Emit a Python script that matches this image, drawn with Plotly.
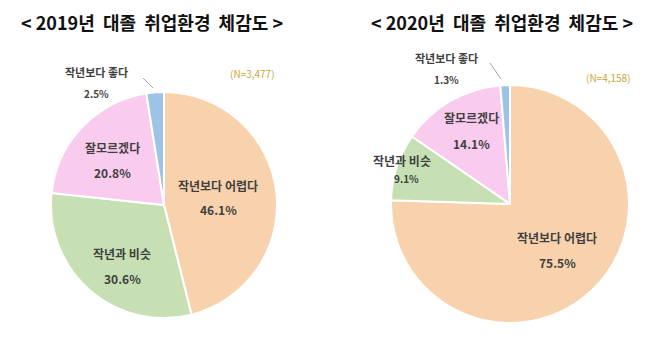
import plotly.graph_objects as go

# Survey categories (clockwise from 12 o'clock)
categories = ["작년보다 어렵다", "작년과 비슷", "잘모르겠다", "작년보다 좋다"]
values_2019 = [46.1, 30.6, 20.8, 2.5]
values_2020 = [75.5, 9.1, 14.1, 1.3]
titles = ["< 2019년  대졸  취업환경  체감도 >", "< 2020년  대졸  취업환경  체감도 >"]
sample_sizes = ["(N=3,477)", "(N=4,158)"]

colors = ["#F8D2AC", "#C6E0B4", "#F9CBEE", "#9DC3E6"]
W, H = 660, 347
FONT = "Noto Sans CJK KR"
LABEL_COLOR = "#3F3F3F"


def px(x):
    return x / W


def py(y):
    return 1 - y / H


def pie_domain(cx, cy, r):
    return dict(x=[px(cx - r), px(cx + r)], y=[py(cy + r), py(cy - r)])


fig = go.Figure()
fig.add_trace(go.Pie(
    labels=categories, values=values_2019, sort=False, direction="clockwise",
    rotation=0, marker=dict(colors=colors, line=dict(color="white", width=2)),
    textinfo="none", hoverinfo="label+percent", showlegend=False,
    domain=pie_domain(164, 205, 113),
))
fig.add_trace(go.Pie(
    labels=categories, values=values_2020, sort=False, direction="clockwise",
    rotation=0, marker=dict(colors=colors, line=dict(color="white", width=2)),
    textinfo="none", hoverinfo="label+percent", showlegend=False,
    domain=pie_domain(510, 204, 119),
))

annotations = []


def text(x, y, s, size=12, color=LABEL_COLOR, bold=True):
    annotations.append(dict(
        x=px(x), y=py(y), xref="paper", yref="paper", text=f"<b>{s}</b>" if bold else s,
        showarrow=False, xanchor="center", yanchor="middle",
        font=dict(family=FONT, size=size, color=color),
    ))


# Chart titles
text(152, 22, titles[0], size=18, color="#111111")
text(502, 22, titles[1], size=18, color="#111111")

# Sample sizes
text(252, 73, sample_sizes[0], size=10, color="#C9A63A", bold=False)
text(608, 77, sample_sizes[1], size=10, color="#C9A63A", bold=False)

# 2019 slice labels
pos_2019 = [(218, 185), (122, 253), (112, 147), (96, 72)]
for i, (x, y) in enumerate(pos_2019):
    small = i == 3
    gap = 21 if small else 25
    text(x, y, categories[i], size=11 if small else 12)
    text(x, y + gap, f"{values_2019[i]}%", size=10 if small else 12)

# 2020 slice labels
pos_2020 = [(557, 237), (402, 160), (471, 118), (446, 58)]
for i, (x, y) in enumerate(pos_2020):
    small = i in (1, 3)
    gap = 21 if i == 3 else (19 if i == 1 else 25)
    text(x, y, categories[i], size=11 if i == 3 else 12)
    text(x + (4 if i == 1 else 0), y + gap, f"{values_2020[i]}%", size=10 if small else 12)

shapes = [
    dict(type="line", xref="paper", yref="paper", x0=px(143), y0=py(78), x1=px(153), y1=py(88),
         line=dict(color="#A6A6A6", width=1)),
    dict(type="line", xref="paper", yref="paper", x0=px(490), y0=py(63), x1=px(501), y1=py(79),
         line=dict(color="#A6A6A6", width=1)),
]

fig.update_layout(
    width=W, height=H, margin=dict(l=0, r=0, t=0, b=0),
    paper_bgcolor="white", plot_bgcolor="white",
    annotations=annotations, shapes=shapes,
    font=dict(family=FONT),
)

fig.write_html("out.html")
